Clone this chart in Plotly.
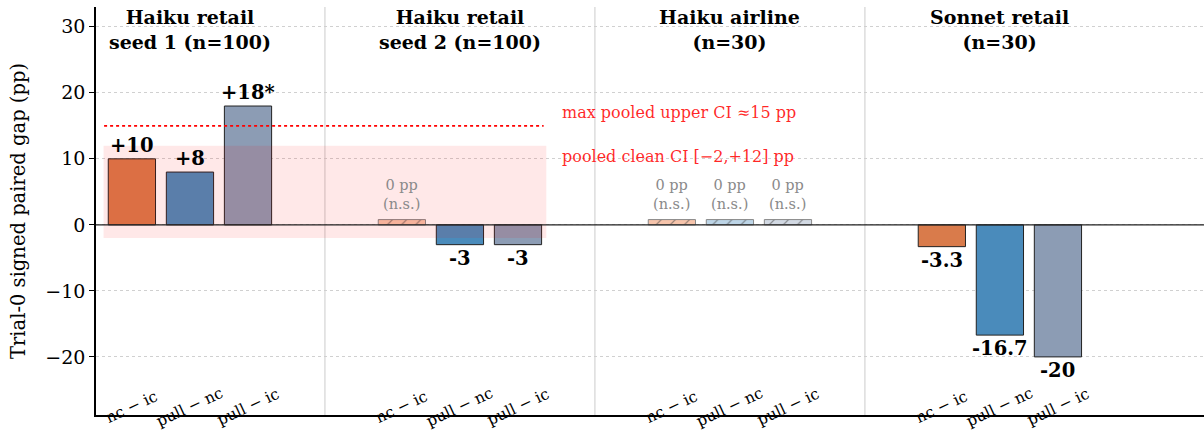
import plotly.graph_objects as go

# ---- data ----
group_titles = ["Haiku retail<br>seed 1 (n=100)", "Haiku retail<br>seed 2 (n=100)",
                "Haiku airline<br>(n=30)", "Sonnet retail<br>(n=30)"]
contrasts = ["nc − ic", "pull − nc", "pull − ic"]
gaps = [
    [10, 8, 18],
    [0, -3, -3],
    [0, 0, 0],
    [-3.3, -16.7, -20],
]
value_labels = [
    ["+10", "+8", "+18*"],
    ["0 pp<br>(n.s.)", "-3", "-3"],
    ["0 pp<br>(n.s.)", "0 pp<br>(n.s.)", "0 pp<br>(n.s.)"],
    ["-3.3", "-16.7", "-20"],
]
significant = [
    [True, True, True],
    [False, True, True],
    [False, False, False],
    [True, True, True],
]
pooled_ci = [-2, 12]
max_upper_ci = 15

# ---- style ----
colors = ["#d97b4b", "#4a8bbb", "#8c9cb4"]
light_colors = ["#f6c4ab", "#bdd5e7", "#d2d9e3"]
offsets = [-0.215, 0.0, 0.215]
bar_w = 0.175
stub_h = 0.8
FONT = "DejaVu Serif"

fig = go.Figure()

annotations = []
for j in range(3):
    xs, ys, fills, pats = [], [], [], []
    for g in range(4):
        x = g + offsets[j]
        v = gaps[g][j]
        sig = significant[g][j]
        xs.append(x)
        ys.append(v if sig else stub_h)
        fills.append(colors[j] if sig else light_colors[j])
        pats.append("" if sig else "/")
        if sig:
            annotations.append(dict(
                x=x, y=v, xref="x", yref="y", text="<b>%s</b>" % value_labels[g][j],
                showarrow=False, xanchor="center",
                yanchor="bottom" if v > 0 else "top",
                font=dict(family=FONT, size=19.5, color="black")))
        else:
            annotations.append(dict(
                x=x, y=stub_h, xref="x", yref="y", text=value_labels[g][j],
                showarrow=False, xanchor="center", yanchor="middle", yshift=25,
                font=dict(family=FONT, size=14.5, color="#8a8a8a")))
        annotations.append(dict(
            x=x, y=-27.6, xref="x", yref="y", text=contrasts[j], showarrow=False,
            textangle=-25, xanchor="center", yanchor="middle",
            font=dict(family=FONT, size=15.5, color="black")))
    fig.add_trace(go.Bar(
        x=xs, y=ys, width=bar_w,
        marker=dict(color=fills,
                    line=dict(color=["#222" if significant[g][j] else "#888" for g in range(4)], width=1),
                    pattern=dict(shape=pats, fgcolor="#777", size=10, solidity=0.12)),
        showlegend=False, hoverinfo="skip"))

for g, t in enumerate(group_titles):
    annotations.append(dict(
        x=g, y=1.0, xref="x", yref="paper", text="<b>%s</b>" % t, showarrow=False,
        xanchor="center", yanchor="top", yshift=3,
        font=dict(family=FONT, size=19, color="black")))

annotations.append(dict(
    x=1.37, y=17, xref="x", yref="y", text="max pooled upper CI ≈15 pp",
    showarrow=False, xanchor="left", yanchor="middle",
    font=dict(family=FONT, size=16, color="rgba(255,0,0,0.85)")))
annotations.append(dict(
    x=1.37, y=10.3, xref="x", yref="y", text="pooled clean CI [−2,+12] pp",
    showarrow=False, xanchor="left", yanchor="middle",
    font=dict(family=FONT, size=16, color="rgba(255,0,0,0.85)")))

shapes = []
for s in [0.5, 1.5, 2.5]:
    shapes.append(dict(type="line", x0=s, x1=s, y0=0, y1=1, xref="x", yref="paper",
                       line=dict(color="#d4d4d4", width=1.2), layer="below"))
shapes.append(dict(type="rect", x0=-0.32, x1=1.32, y0=pooled_ci[0], y1=pooled_ci[1],
                   xref="x", yref="y", fillcolor="rgba(255,0,0,0.09)", line=dict(width=0),
                   layer="above"))
shapes.append(dict(type="line", x0=-0.318, x1=1.31, y0=max_upper_ci, y1=max_upper_ci,
                   xref="x", yref="y", line=dict(color="red", width=1.8, dash="dot"),
                   layer="above"))
shapes.append(dict(type="line", x0=0, x1=1, y0=0, y1=0, xref="paper", yref="y",
                   line=dict(color="#222", width=1.2), layer="above"))

fig.update_layout(
    width=1204, height=432,
    margin=dict(l=96, r=0, t=7, b=17, autoexpand=False),
    paper_bgcolor="white", plot_bgcolor="white",
    font=dict(family=FONT, size=19, color="black"),
    barmode="overlay",
    annotations=annotations, shapes=shapes,
    xaxis=dict(range=[-0.348, 3.756], showticklabels=False, ticks="", showgrid=False,
               zeroline=False, showline=True, linecolor="black", linewidth=1.6),
    yaxis=dict(range=[-28.8, 33], tickvals=[-20, -10, 0, 10, 20, 30],
               ticks="outside", ticklen=5, tickwidth=1.2, tickcolor="black",
               showline=True, linecolor="black", linewidth=1.6,
               showgrid=True, gridcolor="#d0d0d0", griddash="dot", gridwidth=1.3,
               zeroline=False, automargin=False,
               tickfont=dict(family=FONT, size=19),
               title=dict(text="Trial-0 signed paired gap (pp)", standoff=14,
                          font=dict(family=FONT, size=19.5))),
)

fig.write_html("out.html", config={"displayModeBar": False},
               post_script="document.body.style.margin='0';")
